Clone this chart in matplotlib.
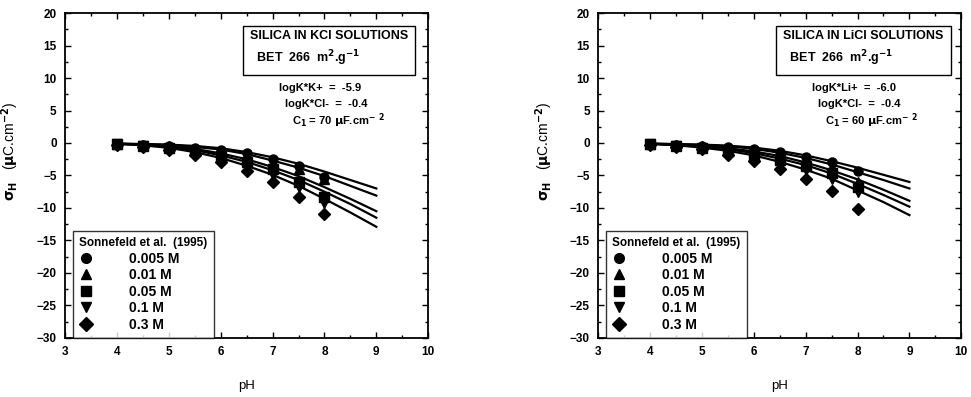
import matplotlib
matplotlib.use("Agg")
from matplotlib import pyplot as plt
from matplotlib.lines import Line2D
from matplotlib.ticker import MultipleLocator

plt.rcParams['font.family'] = ['Liberation Sans', 'DejaVu Sans']
plt.rcParams['font.weight'] = 'bold'

# measured pH values (Sonnefeld et al. 1995)
ph_data = [4, 4.5, 5, 5.5, 6, 6.5, 7, 7.5, 8]
conc_labels = ["0.005 M", "0.01 M", "0.05 M", "0.1 M", "0.3 M"]
markers = ["o", "^", "s", "v", "D"]

# KCl: surface charge data per concentration
kcl_005 = [-0.2, -0.3, -0.4, -0.8, -1.1, -1.6, -2.5, -3.6, -5.3]
kcl_01 = [-0.2, -0.35, -0.5, -1.0, -1.5, -2.3, -3.0, -4.0, -5.6]
kcl_05 = [-0.2, -0.4, -0.7, -1.2, -2.0, -3.0, -4.0, -6.0, -8.3]
kcl_1 = [-0.2, -0.5, -0.9, -1.5, -2.5, -3.6, -5.0, -6.8, -9.3]
kcl_3 = [-0.25, -0.6, -1.1, -1.8, -3.0, -4.3, -6.0, -8.3, -11.0]

# LiCl: surface charge data per concentration
licl_005 = [-0.2, -0.3, -0.4, -0.6, -0.9, -1.4, -2.2, -2.9, -4.3]
licl_01 = [-0.2, -0.35, -0.5, -0.9, -1.4, -2.0, -2.8, -3.7, -6.0]
licl_05 = [-0.2, -0.4, -0.7, -1.2, -1.8, -2.6, -3.5, -4.6, -6.8]
licl_1 = [-0.2, -0.5, -0.85, -1.5, -2.2, -3.2, -4.2, -5.5, -7.6]
licl_3 = [-0.25, -0.6, -1.0, -1.8, -2.7, -4.0, -5.5, -7.4, -10.1]

# model curves
ph_model = [4, 4.5, 5, 5.5, 6, 6.5, 7, 7.5, 8, 8.5, 9]
kcl_fit = [
    [-0.1, -0.15, -0.25, -0.45, -0.8, -1.4, -2.2, -3.2, -4.4, -5.7, -7.0],
    [-0.1, -0.2, -0.3, -0.6, -1.0, -1.7, -2.7, -3.8, -5.1, -6.6, -8.1],
    [-0.1, -0.25, -0.5, -0.9, -1.6, -2.5, -3.7, -5.1, -6.8, -8.6, -10.5],
    [-0.1, -0.3, -0.6, -1.1, -1.9, -2.9, -4.2, -5.7, -7.5, -9.4, -11.5],
    [-0.15, -0.35, -0.75, -1.4, -2.3, -3.5, -4.9, -6.6, -8.6, -10.7, -12.9],
]
licl_fit = [
    [-0.1, -0.15, -0.25, -0.4, -0.7, -1.2, -1.9, -2.8, -3.8, -4.9, -6.0],
    [-0.1, -0.2, -0.3, -0.5, -0.9, -1.5, -2.3, -3.3, -4.5, -5.7, -7.0],
    [-0.1, -0.25, -0.45, -0.8, -1.3, -2.0, -3.0, -4.2, -5.6, -7.2, -8.9],
    [-0.1, -0.3, -0.55, -0.95, -1.55, -2.4, -3.4, -4.7, -6.3, -8.0, -9.8],
    [-0.15, -0.35, -0.7, -1.2, -1.9, -2.9, -4.1, -5.5, -7.3, -9.1, -11.1],
]

panels = [
    ("SILICA IN KCl SOLUTIONS", "logK*K+  =  -5.9", "70",
     [kcl_005, kcl_01, kcl_05, kcl_1, kcl_3], kcl_fit),
    ("SILICA IN LiCl SOLUTIONS", "logK*Li+  =  -6.0", "60",
     [licl_005, licl_01, licl_05, licl_1, licl_3], licl_fit),
]

fig = plt.figure(figsize=(9.71, 3.97), dpi=100)
lefts = [0.067, 0.616]

for left, (title, logk, cap, data, fits) in zip(lefts, panels):
    ax = fig.add_axes([left, 0.149, 0.374, 0.818])

    for curve in fits:
        ax.plot(ph_model, curve, color="black", lw=1.6, zorder=2)
    for vals, m in zip(data, markers):
        ax.plot(ph_data, vals, linestyle="none", marker=m, color="black",
                markersize=6.5, zorder=3)

    ax.set_xlim(3, 10)
    ax.set_ylim(-30, 20)
    ax.xaxis.set_major_locator(MultipleLocator(1))
    ax.xaxis.set_minor_locator(MultipleLocator(0.5))
    ax.yaxis.set_major_locator(MultipleLocator(5))
    ax.yaxis.set_minor_locator(MultipleLocator(2.5))
    ax.tick_params(which="both", direction="in", top=True, right=True,
                   labelsize=8.5, width=1.0)
    ax.tick_params(which="major", length=4, pad=6)
    ax.tick_params(which="minor", length=2)
    for sp in ax.spines.values():
        sp.set_linewidth(1.3)

    ax.set_xlabel("pH", fontsize=9.5, labelpad=16)
    ax.set_ylabel(r"$\mathbf{\sigma_H}$   ($\mathbf{\mu}$C.cm$^{\mathbf{-2}}$)", fontsize=10)
    ax.yaxis.set_label_coords(-0.12, 0.575)

    ax.text(0.51, 0.89, title + "\n  BET  266  m$^{\\mathbf{2}}$.g$^{\\mathbf{-1}}$",
            transform=ax.transAxes, ha="left", va="center", fontsize=9,
            multialignment="left", linespacing=1.45,
            bbox=dict(boxstyle="square,pad=0.55", fc="white", ec="black", lw=1.0))
    ax.text(0.59, 0.77, logk, transform=ax.transAxes, fontsize=8, va="center")
    ax.text(0.605, 0.72, "logK*Cl-  =  -0.4", transform=ax.transAxes, fontsize=8,
            va="center")
    ax.text(0.625, 0.67, "C$_\\mathbf{1}$ = " + cap + " $\\mathbf{\\mu}$F.cm$^{\\mathbf{-}}$ $^{\\mathbf{2}}$",
            transform=ax.transAxes, fontsize=8, va="center")

    handles = [Line2D([], [], linestyle="none", marker=m, color="black", markersize=7)
               for m in markers]
    leg = ax.legend(handles, conc_labels, title="Sonnefeld et al.  (1995)",
                    loc="lower left", bbox_to_anchor=(0.022, 0.0), borderaxespad=0,
                    fontsize=10, title_fontsize=8.5, frameon=True, fancybox=False,
                    edgecolor="black", handletextpad=2.6, labelspacing=0.18,
                    borderpad=0.45, alignment="left", handlelength=1.0)
    leg.get_frame().set_linewidth(1.0)
    leg.get_title().set_fontweight("bold")

fig.savefig("out.png", dpi=100)
